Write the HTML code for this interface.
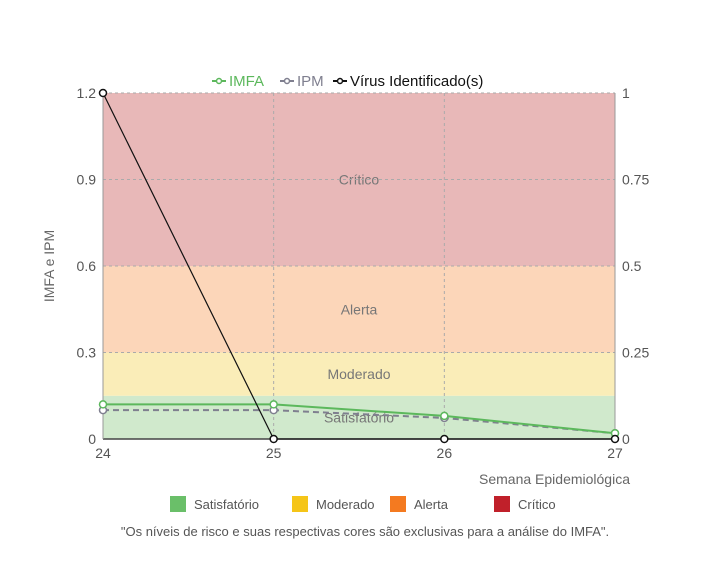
<!DOCTYPE html>
<html><head><meta charset="utf-8"><style>
body{margin:0;background:#fff;font-family:"Liberation Sans",sans-serif}
svg text{font-family:"Liberation Sans",sans-serif}
</style></head><body>
<svg id="c" width="712" height="581" xmlns="http://www.w3.org/2000/svg"></svg>
<script>
const weeks=[24,25,26,27];
const imfa=[0.12,0.12,0.08,0.02];
const ipm=[0.1,0.1,0.073,0.02];
const virus=[1,0,0,0];
const leftTicks=[0,0.3,0.6,0.9,1.2];
const rightTicks=[0,0.25,0.5,0.75,1];
const bandNames=["Satisfatório","Moderado","Alerta","Crítico"];
const bandLow=[0,0.15,0.3,0.6];
const bandHigh=[0.15,0.3,0.6,1.2];
const bandFill=["#d0e9cc","#faedb8","#fcd6b9","#e8b8b8"];
const legendColors=["#6abf69","#f5c518","#f47a20","#c0202a"];
const X0=103,X1=615,Y0=439,Y1=93;
const x=w=>X0+(w-24)/(27-24)*(X1-X0);
const yl=v=>Y0-v/1.2*(Y0-Y1);
const yr=v=>Y0-v/1*(Y0-Y1);
const svg=document.getElementById('c');
const NS="http://www.w3.org/2000/svg";
function mk(t,a,txt){const e=document.createElementNS(NS,t);for(const k in a)e.setAttribute(k,a[k]);if(txt!=null)e.textContent=txt;svg.appendChild(e);return e;}
bandNames.forEach((n,i)=>{
 const r=mk('rect',{x:X0,y:yl(bandHigh[i]),width:X1-X0,height:yl(bandLow[i])-yl(bandHigh[i]),fill:bandFill[i]});
 
 
 const t=mk('text',{x:(X0+X1)/2,y:(yl(bandHigh[i])+yl(bandLow[i]))/2+5,'text-anchor':'middle','font-size':14,fill:'#777'},n);
 
 
});
leftTicks.forEach(v=>{
 const l=mk('line',{x1:X0,x2:X1,y1:yl(v),y2:yl(v),stroke:'#aaa','stroke-dasharray':'3,3','stroke-width':1});
 
 
 const t=mk('text',{x:X0-7,y:yl(v)+5,'text-anchor':'end','font-size':14,fill:'#555'},String(v));
 
 
});
rightTicks.forEach(v=>{
 const t=mk('text',{x:X1+7,y:yr(v)+5,'text-anchor':'start','font-size':14,fill:'#555'},String(v));
 
 
});
weeks.forEach(w=>{
 const l=mk('line',{x1:x(w),x2:x(w),y1:Y1,y2:Y0,stroke:'#aaa','stroke-dasharray':'3,3'});
 
 
 const t=mk('text',{x:x(w),y:Y0+19,'text-anchor':'middle','font-size':14,fill:'#555'},String(w));
 
 
});
const ax=mk('line',{x1:X0,x2:X1,y1:Y0,y2:Y0,stroke:'#444','stroke-width':1.5});

const al=mk('line',{x1:X0,x2:X0,y1:Y1,y2:Y0,stroke:'#999'});

const ar=mk('line',{x1:X1,x2:X1,y1:Y1,y2:Y0,stroke:'#999'});

function series(vals,yf,color,dash,w,name){
 const p=mk('polyline',{points:vals.map((v,i)=>x(weeks[i])+','+yf(v)).join(' '),fill:'none',stroke:color,'stroke-width':w,'stroke-dasharray':dash});
 
 
 vals.forEach((v,i)=>{const c=mk('circle',{cx:x(weeks[i]),cy:yf(v),r:3.5,fill:'#fff',stroke:color,'stroke-width':1.5});
 
 });
}
series(ipm,yl,'#7f7f8f','6,4',2,'ipm');
series(imfa,yl,'#5cb85c','',2,'imfa');
series(virus,yr,'#111','',1.2,'virus');
const yt=mk('text',{x:0,y:0,transform:'translate(54,266) rotate(-90)','text-anchor':'middle','font-size':14,fill:'#666'},'IMFA e IPM');

const xt=mk('text',{x:630,y:484,'text-anchor':'end','font-size':14,fill:'#666'},'Semana Epidemiológica');

const tl=[['IMFA','#5cb85c',212],['IPM','#7f7f8f',280],['Vírus Identificado(s)','#111',333]];
tl.forEach(([n,c,lx])=>{
 const l=mk('line',{x1:lx,x2:lx+14,y1:81,y2:81,stroke:c,'stroke-width':2});
 
 const ci=mk('circle',{cx:lx+7,cy:81,r:2.5,fill:'#fff',stroke:c,'stroke-width':1.5});
 
 const t=mk('text',{x:lx+17,y:86,'font-size':15,fill:c},n);
 
});
const bx=[170,292,390,494];
bandNames.forEach((n,i)=>{
 const r=mk('rect',{x:bx[i],y:496,width:16,height:16,fill:legendColors[i]});
 
 const t=mk('text',{x:bx[i]+24,y:509,'font-size':13,fill:'#555'},n);
 
});
const nt=mk('text',{x:365,y:536,'text-anchor':'middle','font-size':13,fill:'#555'},'"Os níveis de risco e suas respectivas cores são exclusivas para a análise do IMFA".');

</script>
</body></html>
